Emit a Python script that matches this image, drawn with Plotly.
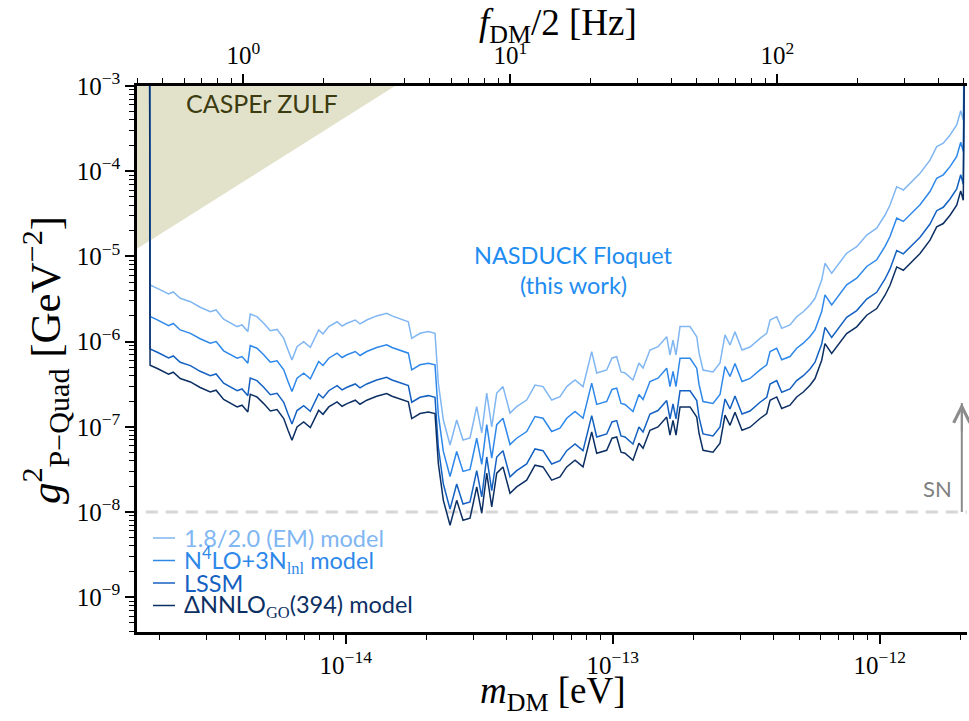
import math
import plotly.graph_objects as go

# ---------------- data ----------------
mass_ev = [1.84e-15, 1.85e-15, 1.97e-15, 2.07e-15, 2.17e-15, 2.26e-15, 2.40e-15, 2.62e-15, 2.85e-15, 3.11e-15, 3.27e-15,
           3.49e-15, 3.92e-15, 4.09e-15, 4.30e-15, 4.39e-15, 4.65e-15, 4.93e-15, 5.22e-15, 5.53e-15, 5.86e-15,
           6.08e-15, 6.29e-15, 6.57e-15, 6.96e-15, 7.37e-15, 7.92e-15, 8.22e-15, 8.64e-15, 9.28e-15, 9.69e-15,
           1.011e-14, 1.086e-14, 1.131e-14, 1.199e-14, 1.306e-14, 1.424e-14, 1.491e-14, 1.574e-14, 1.716e-14, 1.767e-14,
           1.898e-14, 2.039e-14, 2.160e-14, 2.223e-14, 2.321e-14, 2.459e-14, 2.604e-14, 2.750e-14, 2.921e-14, 3.095e-14,
           3.232e-14, 3.374e-14, 3.523e-14, 3.678e-14, 3.882e-14, 4.124e-14, 4.368e-14, 4.762e-14, 5.117e-14, 5.483e-14,
           5.908e-14, 6.346e-14, 6.725e-14, 7.225e-14, 7.742e-14, 8.343e-14, 8.710e-14, 9.495e-14, 9.940e-14, 1.035e-13,
           1.074e-13, 1.112e-13, 1.191e-13, 1.254e-13, 1.299e-13, 1.379e-13, 1.478e-13, 1.593e-13, 1.639e-13, 1.682e-13,
           1.726e-13, 1.787e-13, 1.948e-13, 2.064e-13, 2.105e-13, 2.179e-13, 2.375e-13, 2.523e-13, 2.634e-13, 2.750e-13,
           2.871e-13, 3.050e-13, 3.268e-13, 3.563e-13, 3.775e-13, 3.884e-13, 4.114e-13, 4.295e-13, 4.613e-13, 4.887e-13,
           5.174e-13, 5.483e-13, 5.724e-13, 6.064e-13, 6.238e-13, 6.609e-13, 6.996e-13, 7.520e-13, 8.203e-13, 8.940e-13,
           9.745e-13, 1.047e-12, 1.093e-12, 1.158e-12, 1.226e-12, 1.299e-12, 1.416e-12, 1.543e-12, 1.635e-12, 1.730e-12,
           1.834e-12, 1.943e-12, 2.011e-12, 2.056e-12, 2.096e-12]

g2_em = [1e-1,
         4.62e-6, 4.22e-6, 3.93e-6, 3.62e-6, 3.82e-6, 3.22e-6, 2.94e-6, 2.53e-6, 2.24e-6, 2.35e-6,
         1.83e-6, 1.50e-6, 1.57e-6, 1.31e-6, 2.11e-6, 1.96e-6, 1.64e-6, 1.34e-6, 1.39e-6, 1.09e-6,
         7.97e-7, 6.08e-7, 8.71e-7, 9.97e-7, 8.57e-7, 1.37e-6, 1.23e-6, 1.50e-6, 1.71e-6, 1.52e-6,
         1.64e-6, 1.79e-6, 1.61e-6, 1.79e-6, 2.00e-6, 2.15e-6, 2.00e-6, 1.88e-6, 1.71e-6, 1.09e-6,
         1.25e-6, 1.31e-6, 1.25e-6, 3.24e-7, 1.20e-7, 6.12e-8, 1.20e-7, 7.00e-8, 7.39e-8, 1.72e-7,
         8.46e-8, 2.49e-7, 1.00e-7, 2.49e-7, 2.96e-7, 1.45e-7, 1.72e-7, 2.06e-7, 3.09e-7, 2.96e-7,
         2.06e-7, 2.26e-7, 2.96e-7, 3.54e-7, 2.96e-7, 7.61e-7, 4.28e-7, 4.64e-7, 6.42e-7, 6.65e-7,
         4.40e-7, 4.28e-7, 3.54e-7, 5.61e-7, 4.90e-7, 7.97e-7, 8.71e-7, 1.14e-6, 6.96e-7, 1.04e-6,
         6.96e-7, 1.50e-6, 1.50e-6, 1.14e-6, 7.35e-7, 4.64e-7, 4.40e-7, 5.61e-7, 1.20e-6, 9.12e-7,
         1.30e-6, 7.97e-7, 8.64e-7, 1.09e-6, 1.25e-6, 1.79e-6, 1.96e-6, 1.43e-6, 1.57e-6, 1.96e-6,
         2.24e-6, 2.69e-6, 3.22e-6, 5.28e-6, 8.30e-6, 6.33e-6, 7.93e-6, 1.09e-5, 1.30e-5, 1.78e-5,
         2.14e-5, 3.06e-5, 4.01e-5, 6.58e-5, 6.02e-5, 7.21e-5, 9.45e-5, 1.35e-4, 1.94e-4, 2.13e-4,
         2.66e-4, 3.49e-4, 5.13e-4, 3.99e-4,
         1e-1]

g2_n4lo = [1e-1,
           1.97e-6, 1.80e-6, 1.67e-6, 1.54e-6, 1.63e-6, 1.37e-6, 1.25e-6, 1.08e-6, 9.57e-7, 1.00e-6,
           7.79e-7, 6.38e-7, 6.68e-7, 5.58e-7, 8.99e-7, 8.36e-7, 7.00e-7, 5.73e-7, 5.95e-7, 4.66e-7,
           3.40e-7, 2.59e-7, 3.72e-7, 4.25e-7, 3.66e-7, 5.84e-7, 5.24e-7, 6.38e-7, 7.31e-7, 6.50e-7,
           7.00e-7, 7.65e-7, 6.87e-7, 7.65e-7, 8.52e-7, 9.17e-7, 8.52e-7, 8.01e-7, 7.31e-7, 4.66e-7,
           5.34e-7, 5.58e-7, 5.34e-7, 1.38e-7, 5.13e-8, 2.61e-8, 5.13e-8, 2.99e-8, 3.15e-8, 7.34e-8,
           3.61e-8, 1.06e-7, 4.28e-8, 1.06e-7, 1.26e-7, 6.19e-8, 7.34e-8, 8.80e-8, 1.32e-7, 1.26e-7,
           8.80e-8, 9.62e-8, 1.26e-7, 1.51e-7, 1.26e-7, 3.25e-7, 1.83e-7, 1.98e-7, 2.74e-7, 2.84e-7,
           1.88e-7, 1.83e-7, 1.51e-7, 2.39e-7, 2.09e-7, 3.40e-7, 3.72e-7, 4.87e-7, 2.97e-7, 4.46e-7,
           2.97e-7, 6.38e-7, 6.38e-7, 4.87e-7, 3.14e-7, 1.98e-7, 1.88e-7, 2.39e-7, 5.10e-7, 3.89e-7,
           5.53e-7, 3.40e-7, 3.69e-7, 4.66e-7, 5.34e-7, 7.65e-7, 8.36e-7, 6.11e-7, 6.68e-7, 8.36e-7,
           9.57e-7, 1.15e-6, 1.37e-6, 2.25e-6, 3.54e-6, 2.70e-6, 3.38e-6, 4.64e-6, 5.54e-6, 7.61e-6,
           9.12e-6, 1.31e-5, 1.71e-5, 2.81e-5, 2.57e-5, 3.08e-5, 4.03e-5, 5.77e-5, 8.27e-5, 9.07e-5,
           1.13e-4, 1.49e-4, 2.19e-4, 1.70e-4,
           1e-1]

g2_lssm = [1e-1,
           8.19e-7, 7.49e-7, 6.96e-7, 6.42e-7, 6.78e-7, 5.72e-7, 5.22e-7, 4.48e-7, 3.98e-7, 4.17e-7,
           3.24e-7, 2.65e-7, 2.78e-7, 2.32e-7, 3.74e-7, 3.48e-7, 2.91e-7, 2.38e-7, 2.47e-7, 1.94e-7,
           1.41e-7, 1.08e-7, 1.55e-7, 1.77e-7, 1.52e-7, 2.43e-7, 2.18e-7, 2.65e-7, 3.04e-7, 2.71e-7,
           2.91e-7, 3.18e-7, 2.86e-7, 3.18e-7, 3.54e-7, 3.81e-7, 3.54e-7, 3.33e-7, 3.04e-7, 1.94e-7,
           2.22e-7, 2.32e-7, 2.22e-7, 5.75e-8, 2.13e-8, 1.08e-8, 2.13e-8, 1.24e-8, 1.31e-8, 3.05e-8,
           1.50e-8, 4.42e-8, 1.78e-8, 4.42e-8, 5.24e-8, 2.58e-8, 3.05e-8, 3.66e-8, 5.49e-8, 5.24e-8,
           3.66e-8, 4.00e-8, 5.24e-8, 6.28e-8, 5.24e-8, 1.35e-7, 7.60e-8, 8.24e-8, 1.14e-7, 1.18e-7,
           7.80e-8, 7.60e-8, 6.28e-8, 9.95e-8, 8.69e-8, 1.41e-7, 1.55e-7, 2.03e-7, 1.24e-7, 1.85e-7,
           1.24e-7, 2.65e-7, 2.65e-7, 2.03e-7, 1.30e-7, 8.24e-8, 7.80e-8, 9.95e-8, 2.12e-7, 1.62e-7,
           2.30e-7, 1.41e-7, 1.53e-7, 1.94e-7, 2.22e-7, 3.18e-7, 3.48e-7, 2.54e-7, 2.78e-7, 3.48e-7,
           3.98e-7, 4.77e-7, 5.72e-7, 9.38e-7, 1.47e-6, 1.12e-6, 1.41e-6, 1.93e-6, 2.31e-6, 3.16e-6,
           3.79e-6, 5.43e-6, 7.12e-6, 1.17e-5, 1.07e-5, 1.28e-5, 1.68e-5, 2.40e-5, 3.44e-5, 3.77e-5,
           4.72e-5, 6.18e-5, 9.10e-5, 7.08e-5,
           1e-1]

g2_dnnlo = [1e-1,
            5.28e-7, 4.83e-7, 4.49e-7, 4.14e-7, 4.37e-7, 3.68e-7, 3.36e-7, 2.89e-7, 2.56e-7, 2.69e-7,
            2.09e-7, 1.71e-7, 1.79e-7, 1.49e-7, 2.41e-7, 2.24e-7, 1.87e-7, 1.53e-7, 1.59e-7, 1.25e-7,
            9.11e-8, 6.95e-8, 9.96e-8, 1.14e-7, 9.80e-8, 1.56e-7, 1.40e-7, 1.71e-7, 1.96e-7, 1.74e-7,
            1.87e-7, 2.05e-7, 1.84e-7, 2.05e-7, 2.28e-7, 2.46e-7, 2.28e-7, 2.15e-7, 1.96e-7, 1.25e-7,
            1.43e-7, 1.49e-7, 1.43e-7, 3.70e-8, 1.37e-8, 6.99e-9, 1.37e-8, 8.00e-9, 8.44e-9, 1.97e-8,
            9.66e-9, 2.85e-8, 1.15e-8, 2.85e-8, 3.38e-8, 1.66e-8, 1.97e-8, 2.36e-8, 3.54e-8, 3.38e-8,
            2.36e-8, 2.58e-8, 3.38e-8, 4.05e-8, 3.38e-8, 8.70e-8, 4.89e-8, 5.30e-8, 7.34e-8, 7.60e-8,
            5.03e-8, 4.89e-8, 4.05e-8, 6.41e-8, 5.60e-8, 9.11e-8, 9.96e-8, 1.30e-7, 7.96e-8, 1.19e-7,
            7.96e-8, 1.71e-7, 1.71e-7, 1.30e-7, 8.40e-8, 5.30e-8, 5.03e-8, 6.41e-8, 1.37e-7, 1.04e-7,
            1.48e-7, 9.11e-8, 9.88e-8, 1.25e-7, 1.43e-7, 2.05e-7, 2.24e-7, 1.64e-7, 1.79e-7, 2.24e-7,
            2.56e-7, 3.07e-7, 3.68e-7, 6.04e-7, 9.48e-7, 7.24e-7, 9.06e-7, 1.24e-6, 1.49e-6, 2.04e-6,
            2.44e-6, 3.50e-6, 4.58e-6, 7.52e-6, 6.88e-6, 8.24e-6, 1.08e-5, 1.55e-5, 2.22e-5, 2.43e-5,
            3.04e-5, 3.98e-5, 5.87e-5, 4.56e-5,
            1e-1]

model_names = ["1.8/2.0 (EM) model",
               "N<sup>4</sup>LO+3N<sub><span style='font-family:Liberation Serif'>lnl</span></sub> model",
               "LSSM",
               "ΔNNLO<sub><span style='font-family:Liberation Serif'>GO</span></sub>(394) model"]
model_colors = ["#80b6f2", "#2e88ea", "#1461c2", "#0c2f63"]

# CASPEr ZULF excluded region (boundary)
casper_mass = [1.60e-15, 1.53e-14, 1.60e-15]
casper_g2 = [1.15e-5, 1.0e-3, 1.0e-3]

# Supernova bound
sn_mass = [1.5e-15, 2.2e-12]
sn_g2 = [1.0e-8, 1.0e-8]
sn_arrow_mass = 2.03e-12
sn_arrow_top = 1.9e-7

# frequency axis: f_DM/2 = m / h
h_ev_s = 4.1357e-15

# tick labels
x_tickvals = [1e-14, 1e-13, 1e-12]
x_ticktext = ["10<sup>−14</sup>", "10<sup>−13</sup>", "10<sup>−12</sup>"]
y_tickvals = [1e-9, 1e-8, 1e-7, 1e-6, 1e-5, 1e-4, 1e-3]
y_ticktext = ["10<sup>−9</sup>", "10<sup>−8</sup>", "10<sup>−7</sup>", "10<sup>−6</sup>",
              "10<sup>−5</sup>", "10<sup>−4</sup>", "10<sup>−3</sup>"]
f_tickvals = [1, 10, 100]
f_ticktext = ["10<sup>0</sup>", "10<sup>1</sup>", "10<sup>2</sup>"]

# axis ranges
x_lo, x_hi = 1.653e-15, 2.123e-12
y_lo, y_hi = 3.9e-10, 1.0e-3

# ---------------- figure ----------------
FIG_W, FIG_H = 969, 721
PLOT_L, PLOT_R, PLOT_T, PLOT_B = 137, 967, 86, 632   # plot area in pixels

fig = go.Figure()

fig.add_trace(go.Scatter(x=casper_mass, y=casper_g2, fill="toself", mode="none",
                         fillcolor="rgb(226,226,203)", showlegend=False, hoverinfo="skip"))

fig.add_trace(go.Scatter(x=sn_mass, y=sn_g2, mode="lines",
                         line=dict(color="#d6d6d6", width=3, dash="12px,8px"),
                         showlegend=False, hoverinfo="skip"))

fig.add_trace(go.Scatter(x=[sn_arrow_mass, sn_arrow_mass], y=[sn_g2[0], sn_arrow_top], mode="lines",
                         line=dict(color="#8c8c8c", width=2), showlegend=False, hoverinfo="skip"))

series = [g2_em, g2_n4lo, g2_lssm, g2_dnnlo]
for name, col, ys in zip(model_names, model_colors, series):
    fig.add_trace(go.Scatter(x=mass_ev, y=ys, mode="lines", name=name,
                             line=dict(color=col, width=1.5), showlegend=False))

# invisible trace bound to the top (frequency) axis
fig.add_trace(go.Scatter(x=[x_lo / h_ev_s, x_hi / h_ev_s], y=[y_lo, y_lo], xaxis="x2",
                         mode="markers", marker=dict(opacity=0), showlegend=False, hoverinfo="skip"))

serif = "Liberation Serif"
sans = "Lato"
tickfont = dict(family=serif, size=25, color="black")

def minor_vals(lo_exp, hi_exp):
    return [k * 10.0 ** e for e in range(lo_exp, hi_exp + 1) for k in range(2, 10)]

axis_common = dict(type="log", showgrid=False, zeroline=False, showline=True,
                   linecolor="black", linewidth=2.5, ticks="outside", ticklen=9,
                   tickwidth=2, tickcolor="black", tickmode="array", tickfont=tickfont)

fig.update_layout(
    width=FIG_W, height=FIG_H, autosize=False,
    margin=dict(l=PLOT_L, r=FIG_W - PLOT_R, t=PLOT_T, b=FIG_H - PLOT_B, pad=0),
    plot_bgcolor="white", paper_bgcolor="white",
    xaxis=dict(range=[math.log10(x_lo), math.log10(x_hi)],
               tickvals=x_tickvals, ticktext=x_ticktext,
               minor=dict(tickvals=minor_vals(-16, -12), ticks="outside", ticklen=5,
                          tickwidth=1.2, tickcolor="black"),
               **axis_common),
    yaxis=dict(range=[math.log10(y_lo), math.log10(y_hi)],
               tickvals=y_tickvals, ticktext=y_ticktext,
               minor=dict(tickvals=minor_vals(-11, -4), ticks="outside", ticklen=5,
                          tickwidth=1.2, tickcolor="black"),
               **axis_common),
    xaxis2=dict(overlaying="x", side="top", anchor="y",
                range=[math.log10(x_lo / h_ev_s), math.log10(x_hi / h_ev_s)],
                tickvals=f_tickvals, ticktext=f_ticktext,
                minor=dict(tickvals=minor_vals(-2, 2), ticks="outside", ticklen=5,
                           tickwidth=1.2, tickcolor="black"),
                **axis_common),
)

PW = PLOT_R - PLOT_L
PH = PLOT_B - PLOT_T

def px_to_paper(px, py):
    return (px - PLOT_L) / PW, (PLOT_B - py) / PH

ann = []

def add_text(text, px, py, font, xanchor="center", textangle=0):
    x, y = px_to_paper(px, py)
    ann.append(dict(text=text, x=x, y=y, xref="paper", yref="paper", showarrow=False,
                    xanchor=xanchor, yanchor="middle", textangle=textangle, font=font))

title_font = dict(family=serif, size=37, color="black")
add_text("<i>m</i><sub>DM</sub> [eV]", 553, 693, title_font)
add_text("<i>f</i><sub>DM</sub>/2 [Hz]", 558, 26, title_font)
add_text("<i>g</i><sup>2</sup><sub>P−Quad</sub> [GeV<sup>−2</sup>]", 45, 360,
         dict(family=serif, size=43, color="black"), textangle=-90)

add_text("CASPEr ZULF", 262, 103, dict(family=sans, size=25, color="#3c3c10"))
add_text("NASDUCK Floquet", 573, 255, dict(family=sans, size=23.5, color="#1e8cf0"))
add_text("(this work)", 573, 285, dict(family=sans, size=23.5, color="#1e8cf0"))
add_text("SN", 937, 488, dict(family=sans, size=22, color="#808080"))

# SN arrow head
ann.append(dict(x=math.log10(sn_arrow_mass), y=math.log10(sn_arrow_top), xref="x", yref="y",
                ax=0, ay=30, axref="pixel", ayref="pixel",
                showarrow=True, arrowhead=5, arrowsize=1.6, arrowwidth=2, arrowcolor="#8c8c8c",
                text=""))

# manual legend
shapes = []
rows = [538, 560.5, 583, 605.5]
for name, col, ry in zip(model_names, model_colors, rows):
    x0, yy = px_to_paper(153, ry)
    x1, _ = px_to_paper(175, ry)
    shapes.append(dict(type="line", xref="paper", yref="paper", x0=x0, x1=x1, y0=yy, y1=yy,
                       line=dict(color=col, width=1.5)))
    add_text(name, 182, ry, dict(family=sans, size=23.5, color=col), xanchor="left")

fig.update_layout(annotations=ann, shapes=shapes)

# remove the default 8px page margin so the figure sits at the window origin
fig.write_html("out.html", config={"displayModeBar": False},
               post_script="document.body.style.margin='0px';document.body.style.overflow='hidden';")
